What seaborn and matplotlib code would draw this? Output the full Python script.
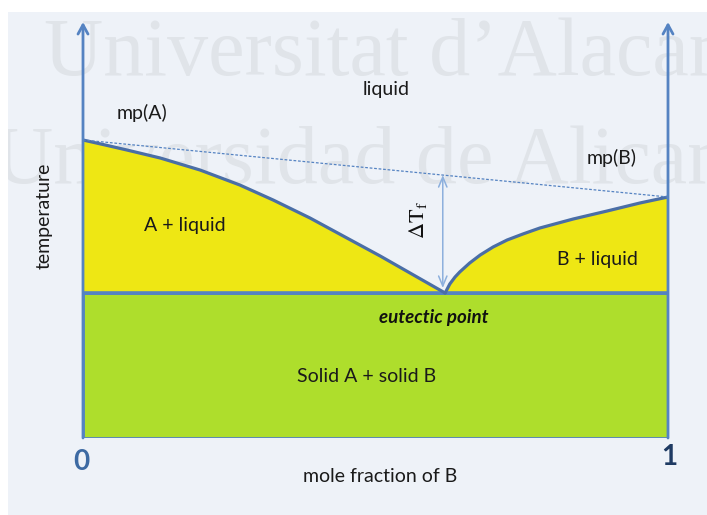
import matplotlib
matplotlib.use("Agg")
import matplotlib.pyplot as plt
from matplotlib.patches import Rectangle
import pandas as pd
import seaborn as sns

# Liquidus branch descending from the melting point of A
x_liq_A = [0.0, 0.038, 0.075, 0.132, 0.200, 0.268, 0.325, 0.388, 0.448,
           0.508, 0.568, 0.619]
T_liq_A = [298, 293, 288, 280, 268, 253, 238, 220, 201, 182, 162, 145]
# Liquidus branch rising towards the melting point of B
x_liq_B = [0.619, 0.627, 0.636, 0.644, 0.661, 0.679, 0.701, 0.725, 0.752,
           0.781, 0.838, 0.896, 0.952, 1.0]
T_liq_B = [145, 154, 161, 166, 175, 183, 191, 198, 204, 210, 219, 227, 235, 241]
# Key points
mp_A = 298
mp_B = 241
T_eutectic = 145
x_eutectic = 0.619
T_top = 416
x_ticks = [0, 1]
tick_labels = ["0", "1"]

W, H = 707, 515
sns.set_theme(style="white")
plt.rcParams["font.family"] = ["Lato", "DejaVu Sans"]
plt.rcParams["mathtext.fontset"] = "stix"

fig = plt.figure(figsize=(W / 100, H / 100), dpi=100, facecolor="white")

# light slide panel with watermark behind everything
panel = Rectangle((8 / W, 0), 1 - 8 / W, 1 - 12 / H, transform=fig.transFigure,
                  facecolor="#eef2f8", edgecolor="none", zorder=-3)
fig.patches.append(panel)
wm_kw = dict(family="Liberation Serif", fontsize=59, color="#e0e4e9",
             va="baseline", ha="left", zorder=-2)
t1 = fig.text(44 / W, 1 - 75 / H, "Universitat d\u2019Alacant", **wm_kw)
t2 = fig.text(-6 / W, 1 - 183 / H, "Universidad de Alicante", **wm_kw)
for t in (t1, t2):
    t.set_clip_path(panel)

ax = fig.add_axes([83 / W, (H - 438) / H, 585 / W, 416 / H])
ax.patch.set_visible(False)
ax.set_xlim(0, 1)
ax.set_ylim(0, T_top)

yellow = "#eee714"
green = "#aede2c"
curve_c = "#4a6ea6"
axis_c = "#5583c2"

# two-phase regions and solid region
ax.fill_between(x_liq_A, T_liq_A, T_eutectic, color=yellow, lw=0, zorder=1)
ax.fill_between(x_liq_B, T_liq_B, T_eutectic, color=yellow, lw=0, zorder=1)
ax.add_patch(Rectangle((0, 0), 1, T_eutectic, facecolor=green,
                       edgecolor=axis_c, lw=2.0, zorder=2))
ax.plot([0, 1], [T_eutectic, T_eutectic], color=axis_c, lw=2.6, zorder=3,
        solid_capstyle="butt")

# liquidus curves
liq = pd.DataFrame({
    "x": x_liq_A + x_liq_B,
    "T": T_liq_A + T_liq_B,
    "branch": ["A"] * len(x_liq_A) + ["B"] * len(x_liq_B),
})
sns.lineplot(data=liq, x="x", y="T", units="branch", estimator=None, sort=False,
             color=curve_c, lw=2.3, ax=ax, zorder=4, legend=False)
ax.set_xlim(0, 1)
ax.set_ylim(0, T_top)
ax.set_axis_off()

# ideal line between the melting points
ax.plot([0, 1], [mp_A, mp_B], color=axis_c, lw=0.9, ls=(0, (2.2, 1.4)), zorder=4)

# temperature axes with arrows
for xv in x_ticks:
    ax.annotate("", xy=(xv, T_top), xytext=(xv, 0), annotation_clip=False,
                arrowprops=dict(arrowstyle="->,head_length=0.55,head_width=0.3",
                                color=axis_c, lw=2.0, shrinkA=0, shrinkB=0),
                zorder=5)

# freezing point depression arrow
x_dt = 0.615
T_dt_top = mp_A + (mp_B - mp_A) * x_dt
ax.annotate("", xy=(x_dt, T_dt_top), xytext=(x_dt, T_eutectic + 5),
            arrowprops=dict(arrowstyle="<->,head_length=0.6,head_width=0.25",
                            color="#8db0dd", lw=1.1, shrinkA=0, shrinkB=0),
            zorder=5)
ax.text(0.572, 218, r"$\Delta\mathrm{T_f}$", rotation=90, fontsize=16,
        ha="center", va="center", color="#111111", zorder=6)

txt = dict(fontsize=14, color="#1a1a1a", ha="center", va="center", zorder=6)
ax.text(0.518, 348, "liquid", **txt)
ax.text(0.101, 325, "mp(A)", **txt)
ax.text(0.904, 280, "mp(B)", **txt)
ax.text(0.174, 213, "A + liquid", **txt)
ax.text(0.879, 178, "B + liquid", **txt)
ax.text(0.600, 120, "eutectic point", fontsize=13.5, color="#111111", ha="center",
        va="center", weight="bold", style="italic", zorder=6)
ax.text(0.484, 61, "Solid A + solid B", **txt)
ax.text(-0.066, 222, "temperature", rotation=90, clip_on=False, **txt)
ax.text(0.508, -39, "mole fraction of B", clip_on=False, **txt)
ax.text(x_ticks[0] - 0.003, -24, tick_labels[0], fontsize=20, weight="bold",
        color="#3d6aa3", ha="center", va="center", clip_on=False)
ax.text(x_ticks[1] + 0.002, -19, tick_labels[1], fontsize=20, weight="bold",
        color="#1f3b63", ha="center", va="center", clip_on=False)

fig.savefig("out.png", dpi=100, facecolor="white")
